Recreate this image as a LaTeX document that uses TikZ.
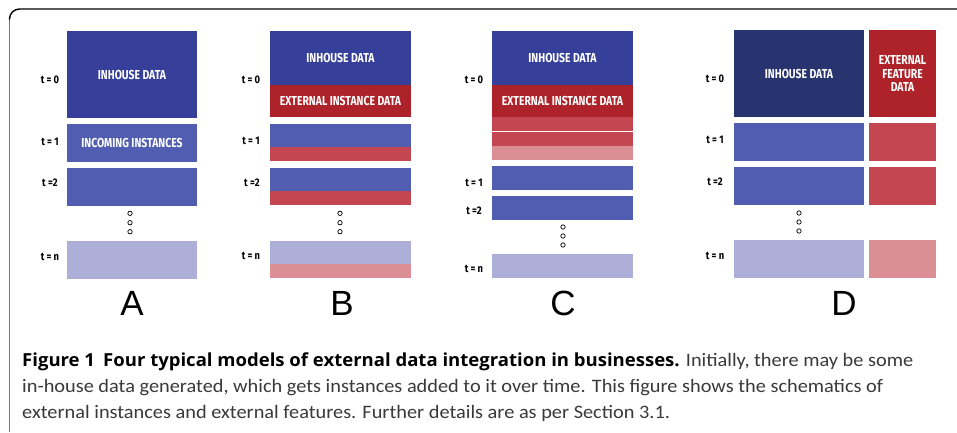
\documentclass[tikz,border=0pt]{standalone}
\usepackage{fontspec}
\setmainfont{PT Sans}
\newfontfamily\boxfont[FakeStretch=0.8]{Fira Sans}
\newfontfamily\tfont[FakeStretch=0.85]{Fira Sans}
\newfontfamily\letterfont{Liberation Sans}
\newfontfamily\capfont[FakeStretch=1.07]{Carlito}
\newfontfamily\capbold[FakeStretch=1.03]{Open Sans}
\definecolor{inhouse}{HTML}{36409A}
\definecolor{inhouseD}{HTML}{283470}
\definecolor{midblue}{HTML}{505DB1}
\definecolor{lavender}{HTML}{ADAFD8}
\definecolor{reddark}{HTML}{AE2329}
\definecolor{redmid}{HTML}{C34651}
\definecolor{pinkred}{HTML}{DC8E95}
\definecolor{captxt}{HTML}{3A3A3A}
\definecolor{framegray}{HTML}{777777}
\tikzset{
  blk/.style={rectangle, inner sep=0pt, outer sep=0pt, draw=none, anchor=north west,
    text=white, font=\boxfont\bfseries\fontsize{13}{14.5}\selectfont, align=center},
  tlab/.style={font=\tfont\bfseries\fontsize{11}{12}\selectfont, text=black, inner sep=0pt},
  panel/.style={font=\letterfont\fontsize{35}{40}\selectfont, inner sep=0pt},
  dot/.style={draw=black, line width=0.7pt},
  capline/.style={anchor=base west, inner sep=0pt, font=\capfont\fontsize{19}{26}\selectfont, text=captxt}
}
\newcommand{\blk}[7]{% name, x, y, w, h, color, text
  \node[blk, fill=#6, minimum width=#4pt, minimum height=#5pt] (#1) at (#2,#3) {#7};}
\begin{document}
\begin{tikzpicture}[x=1pt,y=-1pt]
\useasboundingbox (0,0) rectangle (957,432);
\fill[white] (0,0) rectangle (957,432);
% frame
\draw[framegray, line width=1.4pt] (9.5,432) -- (9.5,19);
\draw[black, line width=1.4pt, rounded corners=10pt] (9.5,19.5) -- (9.5,9) -- (957,9);

% ---------- Panel A ----------
\blk{a0}{67}{31}{130}{87}{inhouse}{INHOUSE DATA}
\blk{a1}{67}{124}{130}{38}{midblue}{INCOMING INSTANCES}
\blk{a2}{67}{168}{130}{38}{midblue}{}
\blk{an}{67}{241}{130}{38}{lavender}{}
\draw[dot] (130,213.3) circle (2.2) (130,222.7) circle (2.2) (130,231.7) circle (2.2);
\node[tlab] (ta0) at (50,80) {t = 0};
\node[tlab] (ta1) at (50,142) {t = 1};
\node[tlab] (ta2) at (50,183) {t =2};
\node[tlab] (tan) at (50,257) {t = n};
\node[panel] (la) at (132,303) {A};

% ---------- Panel B ----------
\blk{b0}{270}{31}{141}{54}{inhouse}{INHOUSE DATA}
\blk{b0r}{270}{85}{141}{32}{reddark}{EXTERNAL INSTANCE DATA}
\blk{b1}{270}{124}{141}{23}{midblue}{}
\blk{b1r}{270}{147}{141}{14}{redmid}{}
\blk{b2}{270}{168}{141}{23}{midblue}{}
\blk{b2r}{270}{191}{141}{14}{redmid}{}
\blk{bn}{270}{241}{141}{23}{lavender}{}
\blk{bnr}{270}{264}{141}{14}{pinkred}{}
\draw[dot] (340,213.3) circle (2.2) (340,222.7) circle (2.2) (340,231.7) circle (2.2);
\node[tlab] (tb0) at (251,80) {t = 0};
\node[tlab] (tb1) at (251,141) {t = 1};
\node[tlab] (tb2) at (252,183) {t =2};
\node[tlab] (tbn) at (251,256) {t = n};
\node[panel] (lb) at (342,303) {B};

% ---------- Panel C ----------
\blk{c0}{492}{31}{141}{54}{inhouse}{INHOUSE DATA}
\blk{c0r}{492}{85}{141}{32}{reddark}{EXTERNAL INSTANCE DATA}
\blk{c0s}{492}{117}{141}{14}{redmid}{}
\blk{c0t}{492}{132}{141}{14}{redmid}{}
\blk{c0p}{492}{146}{141}{14}{pinkred}{}
\blk{c1}{492}{166}{141}{24}{midblue}{}
\blk{c2}{492}{196}{141}{24}{midblue}{}
\blk{cn}{492}{254}{141}{24}{lavender}{}
\draw[dot] (563,227) circle (2.2) (563,236) circle (2.2) (563,245) circle (2.2);
\node[tlab] (tc0) at (474,80) {t = 0};
\node[tlab] (tc1) at (474,183) {t = 1};
\node[tlab] (tc2) at (474,211) {t =2};
\node[tlab] (tcn) at (474,269) {t = n};
\node[panel] (lc) at (563,303) {C};

% ---------- Panel D ----------
\blk{d0}{734}{30}{130}{87}{inhouseD}{INHOUSE DATA}
\blk{d0r}{869}{30}{67}{87}{reddark}{EXTERNAL\\[-1pt]FEATURE\\[-1pt]DATA}
\blk{d1}{734}{123}{130}{38}{midblue}{}
\blk{d1r}{869}{123}{67}{38}{redmid}{}
\blk{d2}{734}{167}{130}{38}{midblue}{}
\blk{d2r}{869}{167}{67}{38}{redmid}{}
\blk{dn}{734}{240}{130}{38}{lavender}{}
\blk{dnr}{869}{240}{67}{38}{pinkred}{}
\draw[dot] (799,213) circle (2.2) (799,222) circle (2.2) (799,231) circle (2.2);
\node[tlab] (td0) at (715,79) {t = 0};
\node[tlab] (td1) at (715,140) {t = 1};
\node[tlab] (td2) at (715,182) {t =2};
\node[tlab] (tdn) at (715,256) {t = n};
\node[panel] (ld) at (844,303) {D};

% ---------- Caption ----------
\node[capline] (cap1) at (22,366)
  {{\capbold\bfseries\fontsize{18}{26}\selectfont\color{black}Figure 1\hspace{0.45em}Four typical models of external data integration in businesses.} Initially, there may be some};
\node[capline] (cap2) at (22,392)
  {in-house data generated, which gets instances added to it over time. This figure shows the schematics of};
\node[capline] (cap3) at (22,418)
  {external instances and external features. Further details are as per Section 3.1.};
\end{tikzpicture}
\end{document}
